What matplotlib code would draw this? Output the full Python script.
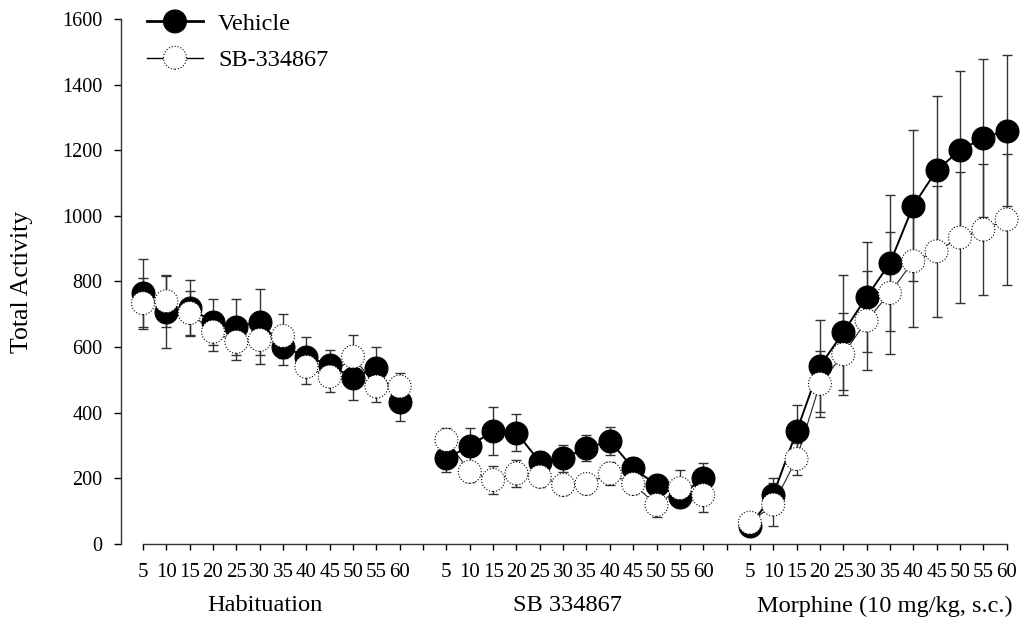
import numpy as np
import matplotlib.pyplot as plt
from matplotlib.lines import Line2D
from matplotlib.patches import Ellipse

plt.rcParams['font.family'] = ['Liberation Serif', 'DejaVu Serif']

# time bins (min) within each phase
minutes = [5, 10, 15, 20, 25, 30, 35, 40, 45, 50, 55, 60]
phases = ["Habituation", "SB 334867", "Morphine (10 mg/kg, s.c.)"]
phase_label_x = [5.23, 18.2, 31.76]

# Vehicle group, mean and SEM per phase
veh_hab = [765, 708, 719, 677, 662, 677, 601, 571, 546, 506, 536, 434]
veh_hab_sem = [105, 112, 85, 70, 85, 100, 55, 60, 45, 67, 65, 58]
veh_sb = [261, 299, 344, 339, 251, 261, 292, 314, 231, 180, 144, 202]
veh_sb_sem = [43, 53, 73, 57, 30, 41, 40, 44, 30, 30, 30, 46]
veh_mor = [55, 150, 343, 542, 645, 753, 856, 1031, 1139, 1200, 1238, 1260]
veh_mor_sem = [10, 50, 80, 140, 175, 167, 208, 230, 227, 241, 241, 229]

# SB-334867 group
sb_hab = [734, 740, 704, 647, 616, 622, 634, 540, 510, 571, 480, 480]
sb_hab_sem = [78, 78, 67, 60, 56, 74, 67, 52, 47, 66, 47, 41]
sb_sb = [317, 220, 195, 215, 205, 180, 183, 215, 183, 119, 170, 149]
sb_sb_sem = [35, 30, 43, 40, 30, 30, 30, 35, 30, 38, 56, 51]
sb_mor = [65, 120, 259, 488, 578, 681, 765, 862, 892, 934, 958, 989]
sb_mor_sem = [10, 65, 50, 100, 125, 150, 185, 200, 200, 200, 200, 200]

vehicle = [(veh_hab, veh_hab_sem), (veh_sb, veh_sb_sem), (veh_mor, veh_mor_sem)]
treated = [(sb_hab, sb_hab_sem), (sb_sb, sb_sb_sem), (sb_mor, sb_mor_sem)]

MS = 16.5  # marker diameter in points


class CircleOnLine:
    """Legend entry: a horizontal line with a circle in its middle."""

    def __init__(self, face, edge_style, lw):
        self.face = face
        self.edge_style = edge_style
        self.lw = lw

    def legend_artist(self, legend, orig_handle, fontsize, handlebox):
        x0, y0 = -handlebox.xdescent, -handlebox.ydescent
        w, h = handlebox.width, handlebox.height
        yc = y0 + h / 2
        line = Line2D([x0, x0 + w], [yc, yc], color='black', lw=self.lw)
        circ = Ellipse((x0 + w / 2, yc), MS, MS, facecolor=self.face,
                       edgecolor='black', lw=0.8, linestyle=self.edge_style)
        handlebox.add_artist(line)
        handlebox.add_artist(circ)
        return circ


fig = plt.figure(figsize=(10.23, 6.21), dpi=100)
ax = fig.add_axes([0.1183, 0.124, 0.8817, 0.8454])

n = len(minutes)
step = n + 1  # one empty slot between phases

for g in range(len(phases)):
    x = np.arange(n) + g * step
    m, e = vehicle[g]
    ax.errorbar(x, m, yerr=e, fmt='none', ecolor='#333333', elinewidth=1.0,
                capsize=3.6, capthick=1.0, zorder=1)
    ax.plot(x, m, color='black', lw=1.4, zorder=2)
    veh_sc = ax.scatter(x, m, s=MS ** 2, c='black', edgecolors='black',
                        linewidths=0.8, zorder=3, clip_on=False)

    m, e = treated[g]
    ax.errorbar(x, m, yerr=e, fmt='none', ecolor='#333333', elinewidth=1.0,
                capsize=3.6, capthick=1.0, zorder=1)
    ax.plot(x, m, color='#222222', lw=0.8, zorder=2)
    sb_sc = ax.scatter(x, m, s=MS ** 2, c='white', edgecolors='black',
                       linewidths=0.8, linestyles=':', zorder=4, clip_on=False)

ax.legend([veh_sc, sb_sc], ["Vehicle", "SB-334867"],
          handler_map={veh_sc: CircleOnLine('black', '-', 2.0),
                       sb_sc: CircleOnLine('white', ':', 1.0)},
          loc='upper left', bbox_to_anchor=(0.1437, 0.983),
          bbox_transform=fig.transFigure, borderaxespad=0, borderpad=0,
          frameon=False, fontsize=17.5, handlelength=2.3, handleheight=1.0,
          handletextpad=0.62, labelspacing=0.5)

# axes styling
ax.set_xlim(-0.94, 37.7)
ax.set_ylim(0, 1600)
ax.spines['top'].set_visible(False)
ax.spines['right'].set_visible(False)
ax.spines['left'].set_bounds(0, 1600)
ax.spines['bottom'].set_bounds(0, 3 * step - 2)

all_ticks = np.arange(3 * step - 1)
ax.set_xticks(all_ticks)
labels = []
for t in all_ticks:
    pos = t % step
    labels.append(str(minutes[pos]) if pos < n else "")
ax.set_xticklabels(labels)
ax.set_yticks(np.arange(0, 1601, 200))
ax.tick_params(axis='both', direction='out', width=1.0)
ax.tick_params(axis='x', length=4.5, pad=9.5, labelsize=15)
ax.tick_params(axis='y', length=5, pad=8.5, labelsize=14.5)

for sp in ('left', 'bottom'):
    ax.spines[sp].set_linewidth(1.0)
    ax.spines[sp].set_color('#333333')

ax.set_ylabel("Total Activity", fontsize=18.5)
ax.yaxis.set_label_coords(-0.0976, 0.5)

for xl, name in zip(phase_label_x, phases):
    ax.text(xl, -0.118, name, transform=ax.get_xaxis_transform(),
            ha='center', va='center', fontsize=17.6)

fig.savefig("out.png", dpi=100)
